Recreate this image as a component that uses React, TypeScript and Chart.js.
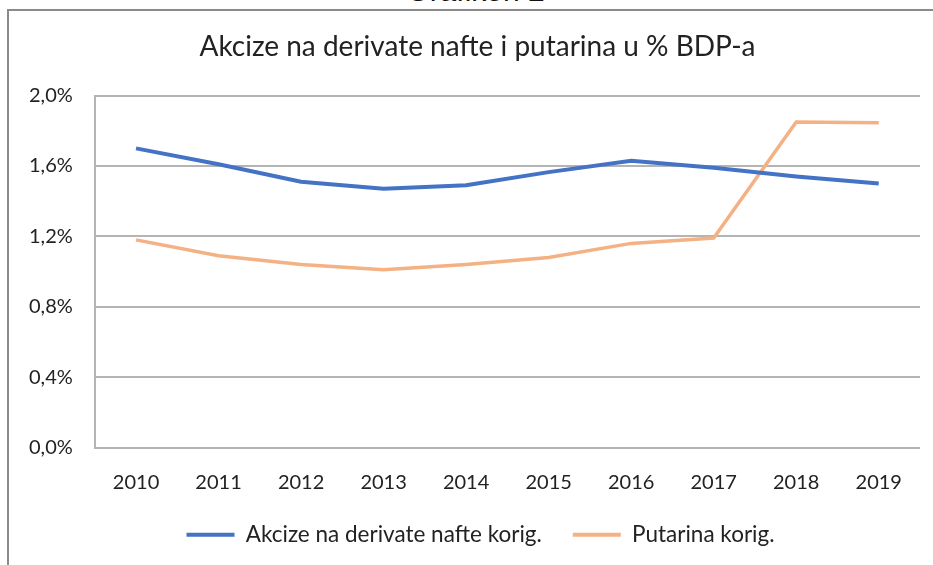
import React, { useEffect, useRef } from "react";
import { Chart, registerables } from "chart.js";

Chart.register(...registerables);

const years = ["2010", "2011", "2012", "2013", "2014", "2015", "2016", "2017", "2018", "2019"];
const akcize = [1.70, 1.61, 1.51, 1.47, 1.49, 1.565, 1.63, 1.59, 1.54, 1.50];
const putarina = [1.18, 1.09, 1.04, 1.01, 1.04, 1.08, 1.16, 1.19, 1.85, 1.845];
const seriesNames = ["Akcize na derivate nafte korig.", "Putarina korig."];
const titleText = "Akcize na derivate nafte i putarina u % BDP-a";
const FONT = "Lato, 'Open Sans', sans-serif";

const boxShift = {
  id: "boxShift",
  afterLayout(chart: any) {
    const lg = chart.legend;
    if (lg) {
      lg.top -= 25;
      lg.bottom -= 25;
      lg.left += 17;
      lg.right += 17;
    }
    const t = chart.titleBlock;
    if (t) {
      t.left += 14;
      t.right += 14;
    }
  },
};

export default function App() {
  const ref = useRef<HTMLCanvasElement | null>(null);
  useEffect(() => {
    if (!ref.current) return;
    const chart = new Chart(ref.current, {
      type: "line",
      data: {
        labels: years,
        datasets: [
          {
            label: seriesNames[0],
            data: akcize,
            borderColor: "#4472C4",
            backgroundColor: "#4472C4",
            borderWidth: 4,
            pointRadius: 0,
            tension: 0,
          },
          {
            label: seriesNames[1],
            data: putarina,
            borderColor: "#F4B183",
            backgroundColor: "#F4B183",
            borderWidth: 3.5,
            pointRadius: 0,
            tension: 0,
          },
        ],
      },
      plugins: [boxShift],
      options: {
        responsive: false,
        animation: false,
        layout: { padding: { left: 7, right: 13, top: 30, bottom: -16 } },
        plugins: {
          title: {
            display: true,
            text: titleText,
            color: "#222",
            font: { family: FONT, size: 28, weight: "normal" },
            padding: { top: 0, bottom: 32 },
          },
          legend: {
            position: "bottom",
            labels: {
              color: "#222",
              font: { family: FONT, size: 22.5 },
              boxWidth: 48,
              boxHeight: 4,
              padding: 31,
              generateLabels: (c: any) =>
                Chart.defaults.plugins.legend.labels
                  .generateLabels(c)
                  .map((l: any) => ({ ...l, lineWidth: 0 })),
            },
          },
          tooltip: { enabled: false },
        },
        scales: {
          x: {
            offset: true,
            grid: { display: false, drawTicks: false },
            border: { display: false },
            ticks: {
              color: "#222",
              font: { family: FONT, size: 20 },
              padding: 23,
              maxRotation: 0,
            },
          },
          y: {
            min: 0,
            max: 2,
            grid: { color: "#b4b4b4", lineWidth: 2, drawTicks: false },
            border: { display: true, color: "#b4b4b4", width: 2 },
            ticks: {
              stepSize: 0.4,
              color: "#222",
              font: { family: FONT, size: 20 },
              padding: 22,
              callback: (v: any) => Number(v).toFixed(1).replace(".", ",") + "%",
            },
          },
        },
      },
    });
    return () => chart.destroy();
  }, []);

  return (
    <div style={{ position: "absolute", left: 0, top: 0, width: 933, height: 565, overflow: "hidden", background: "#fff" }}>
      <div
        style={{
          position: "absolute",
          left: 9,
          width: 933,
          top: -26,
          textAlign: "center",
          fontFamily: "'Liberation Sans', Arial, sans-serif",
          fontSize: 30,
          lineHeight: "34px",
          color: "#111",
        }}
      >
        Grafikon 2
      </div>
      <div
        style={{
          position: "absolute",
          left: 7,
          top: 9,
          width: 1000,
          height: 1000,
          borderTop: "2px solid #8a8a8a",
          borderLeft: "2px solid #8a8a8a",
          background: "#fff",
        }}
      />
      <canvas ref={ref} width={933} height={565} style={{ position: "absolute", left: 0, top: 0 }} />
    </div>
  );
}
